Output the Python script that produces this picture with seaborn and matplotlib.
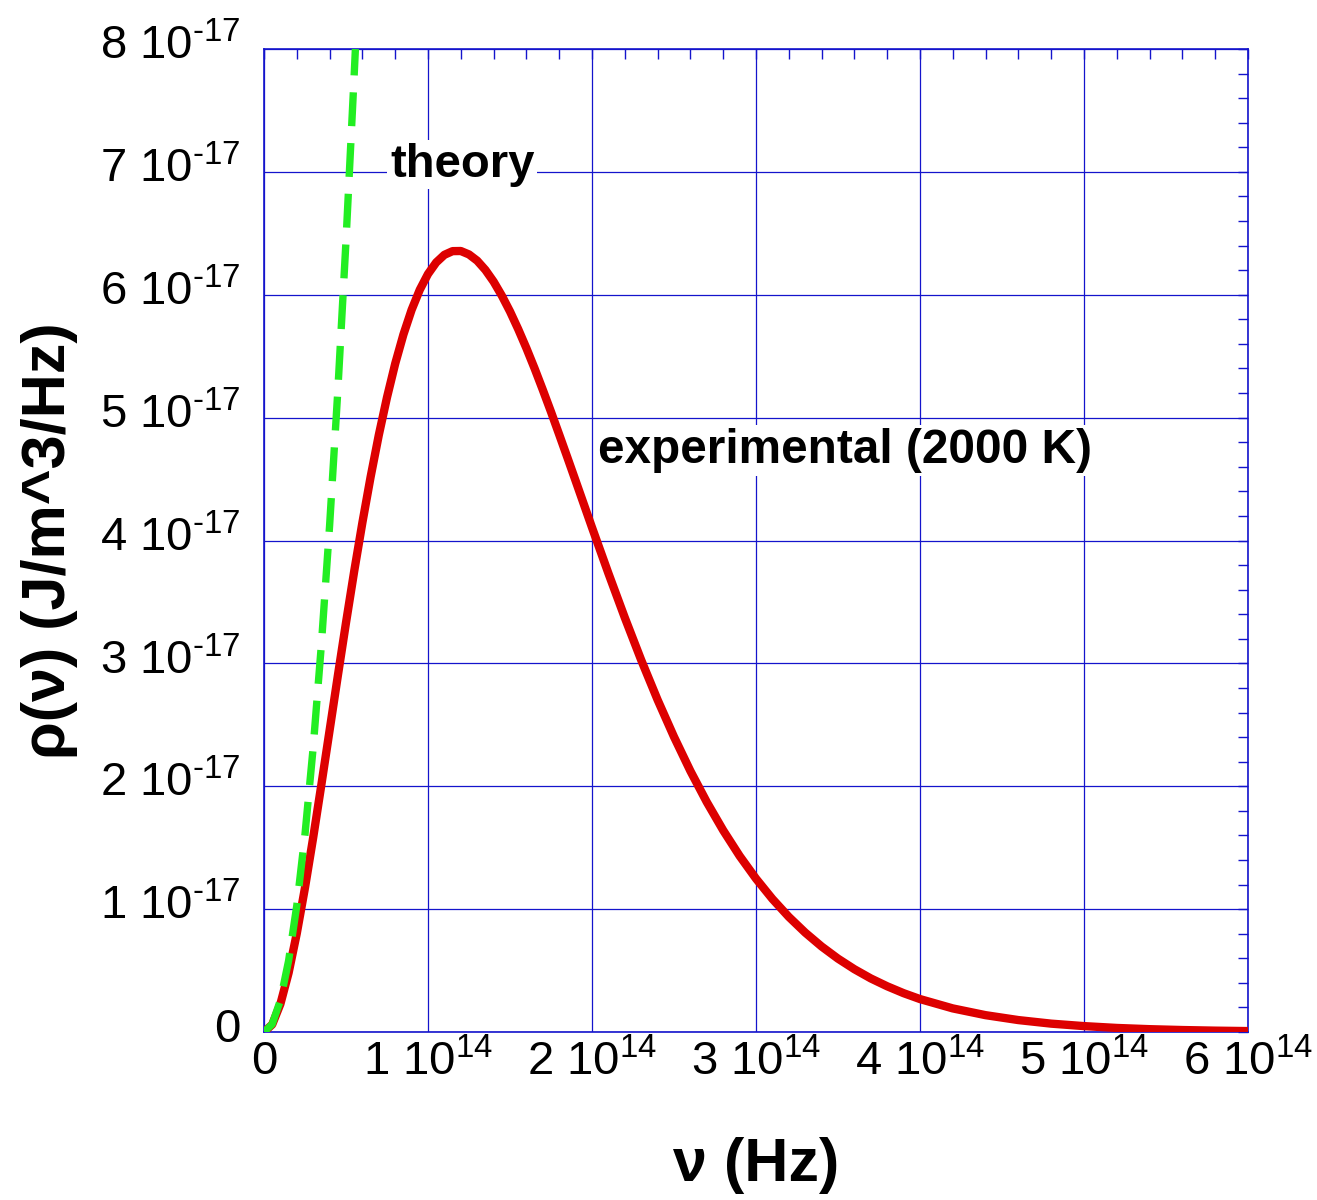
import matplotlib
matplotlib.use("Agg")
import matplotlib.pyplot as plt
import matplotlib.transforms as mtransforms
import seaborn as sns
import numpy as np
import pandas as pd
from matplotlib.ticker import MultipleLocator, FixedLocator, FixedFormatter

# ---- data (frequency in units of 1e14 Hz, energy density in units of 1e-17 J/m^3/Hz)
exp_nu = [0.0, 0.05, 0.1, 0.15, 0.2, 0.25, 0.3, 0.35, 0.4, 0.45, 0.5, 0.55, 0.6, 0.65,
          0.7, 0.75, 0.8, 0.85, 0.9, 0.95, 1.0, 1.05, 1.1, 1.15, 1.2, 1.25, 1.3, 1.35,
          1.4, 1.45, 1.5, 1.55, 1.6, 1.65, 1.7, 1.75, 1.8, 1.85, 1.9, 1.95, 2.0, 2.1,
          2.2, 2.3, 2.4, 2.5, 2.6, 2.7, 2.8, 2.9, 3.0, 3.1, 3.2, 3.3, 3.4, 3.5, 3.6,
          3.7, 3.8, 3.9, 4.0, 4.2, 4.4, 4.6, 4.8, 5.0, 5.2, 5.4, 5.6, 5.8, 6.0]
exp_rho = [0.0, 0.061, 0.228, 0.481, 0.803, 1.175, 1.583, 2.014, 2.455, 2.897, 3.331,
           3.750, 4.146, 4.517, 4.858, 5.165, 5.439, 5.676, 5.877, 6.041, 6.169, 6.263,
           6.325, 6.355, 6.356, 6.328, 6.277, 6.202, 6.107, 5.993, 5.864, 5.720, 5.565,
           5.400, 5.226, 5.047, 4.862, 4.675, 4.486, 4.296, 4.106, 3.733, 3.372, 3.027,
           2.703, 2.402, 2.124, 1.871, 1.641, 1.433, 1.248, 1.083, 0.937, 0.809, 0.696,
           0.597, 0.511, 0.436, 0.372, 0.316, 0.268, 0.192, 0.137, 0.097, 0.068, 0.048,
           0.033, 0.023, 0.016, 0.011, 0.0075]

theory_nu = [0.0, 0.05, 0.1, 0.15, 0.2, 0.25, 0.3, 0.35, 0.4, 0.45, 0.5, 0.55, 0.5573]
theory_rho = [0.0, 0.064, 0.258, 0.580, 1.030, 1.610, 2.318, 3.155, 4.121, 5.216,
              6.439, 7.792, 8.0]

x_ticks = [0, 1, 2, 3, 4, 5, 6]
x_ticklabels = ["0"] + [f"{v} 10$^{{14}}$" for v in x_ticks[1:]]
y_ticks = [0, 1, 2, 3, 4, 5, 6, 7, 8]
y_ticklabels = ["0"] + [f"{v} 10$^{{\\text{{-}}17}}$" for v in y_ticks[1:]]

x_label = "ν (Hz)"
y_label = "ρ(ν) (J/m^3/Hz)"
label_theory = "theory"
label_exp = "experimental (2000 K)"

# ---- styling
sns.set_style("white")
plt.rcParams["font.family"] = ["Liberation Sans", "DejaVu Sans"]
plt.rcParams["mathtext.fontset"] = "custom"
plt.rcParams["mathtext.rm"] = "Liberation Sans"
plt.rcParams["mathtext.it"] = "Liberation Sans:italic"
plt.rcParams["mathtext.bf"] = "Liberation Sans:bold"
plt.rcParams["text.color"] = "black"
plt.rcParams["axes.labelcolor"] = "black"

BLUE = "#1414cc"
RED = "#dd0000"
GREEN = "#22ee22"

exp_df = pd.DataFrame({"nu": np.array(exp_nu) * 1e14, "rho": np.array(exp_rho) * 1e-17})
th_df = pd.DataFrame({"nu": np.array(theory_nu) * 1e14, "rho": np.array(theory_rho) * 1e-17})

fig = plt.figure(figsize=(13.17, 12.0), dpi=100)
ax = fig.add_axes([264 / 1317, 1 - 1032 / 1200, (1248 - 264) / 1317, (1032 - 49) / 1200])

sns.lineplot(data=exp_df, x="nu", y="rho", ax=ax, color=RED, linewidth=6.0,
             errorbar=None, zorder=3, solid_joinstyle="round")
sns.lineplot(data=th_df, x="nu", y="rho", ax=ax, color=GREEN, linewidth=5.3,
             errorbar=None, zorder=4, linestyle=(0, (4.6, 2.3)))

ax.set_xlim(0, 6e14)
ax.set_ylim(0, 8e-17)

ax.xaxis.set_major_locator(FixedLocator([v * 1e14 for v in x_ticks]))
ax.xaxis.set_major_formatter(FixedFormatter(x_ticklabels))
ax.yaxis.set_major_locator(FixedLocator([v * 1e-17 for v in y_ticks]))
ax.yaxis.set_major_formatter(FixedFormatter(y_ticklabels))
ax.xaxis.set_minor_locator(MultipleLocator(0.2e14))
ax.yaxis.set_minor_locator(MultipleLocator(0.2e-17))

ax.grid(True, which="major", color=BLUE, linewidth=0.9, zorder=1)
ax.set_axisbelow(True)
for s in ax.spines.values():
    s.set_color(BLUE)
    s.set_linewidth(1.2)
    s.set_visible(True)

ax.tick_params(which="both", direction="in", top=True, right=True, color=BLUE,
               width=1.0, labelcolor="black")
ax.tick_params(which="major", length=7)
ax.tick_params(which="minor", length=7)
ax.tick_params(axis="x", which="major", labelsize=34, pad=6)
ax.tick_params(axis="y", which="major", labelsize=34, pad=17)

# y tick labels sit slightly above their ticks in the reference
offset = mtransforms.ScaledTranslation(0, 7 / 100, fig.dpi_scale_trans)
for lab in ax.yaxis.get_majorticklabels():
    lab.set_transform(lab.get_transform() + offset)

ax.set_xlabel(x_label, fontsize=44, fontweight="bold", labelpad=37, color="black")
ax.set_ylabel(y_label, fontsize=44, fontweight="bold", labelpad=16, color="black")

bbox = dict(facecolor="white", edgecolor="none", pad=2)
ax.text(0.768e14, 7.06e-17, label_theory, fontsize=34, fontweight="bold",
        ha="left", va="center", bbox=bbox, zorder=5, color="black")
ax.text(2.037e14, 4.73e-17, label_exp, fontsize=34.4, fontweight="bold",
        ha="left", va="center", bbox=bbox, zorder=5, color="black")

fig.savefig("out.png", dpi=100)
